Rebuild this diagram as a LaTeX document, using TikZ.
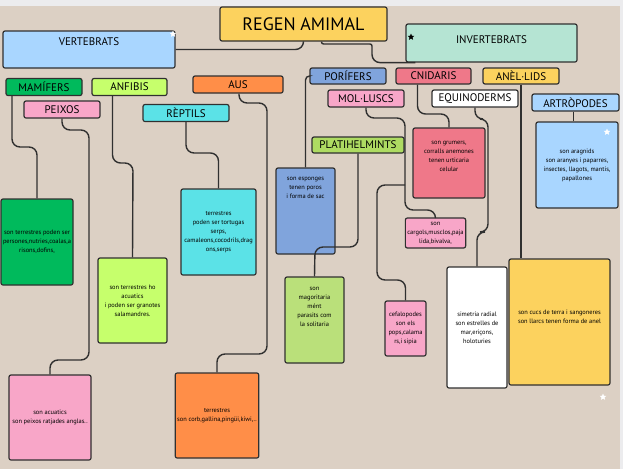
\documentclass[tikz,border=0pt]{standalone}
\usepackage{fontspec}
\setmainfont{PT Sans}
\usetikzlibrary{shapes.geometric}

\definecolor{paper}{HTML}{DCD0C4}
\definecolor{strip}{HTML}{ECECEE}
\definecolor{edge}{HTML}{303030}
\definecolor{gold}{HTML}{FCD25E}
\definecolor{skyblue}{HTML}{A9D6FF}
\definecolor{mint}{HTML}{B5E4D3}
\definecolor{mamgreen}{HTML}{00BA5C}
\definecolor{lime}{HTML}{C6FF6C}
\definecolor{orange}{HTML}{FF8E48}
\definecolor{pink}{HTML}{F8A6C8}
\definecolor{cyan}{HTML}{5BE2E7}
\definecolor{porblue}{HTML}{80A4DC}
\definecolor{cnired}{HTML}{EF7889}
\definecolor{platgreen}{HTML}{AEDB62}

\begin{document}
\begin{tikzpicture}[x=1pt, y=-1pt,
    every node/.style={font=\fontsize{11}{13}\selectfont},
    tag/.style={draw=edge, line width=1.2pt, rounded corners=2pt, inner sep=1pt, minimum height=17pt},
    desc/.style={draw=edge, line width=1.2pt, rounded corners=2pt, inner sep=2pt, align=center, font=\fontsize{6.4}{9}\selectfont},
    link/.style={draw=edge, line width=1.4pt, rounded corners=8pt},
    deco/.style={star, star points=5, star point ratio=2.2, inner sep=0pt, minimum size=7pt}]

  % paper
  \fill[paper] (0,0) rectangle (623,469);
  \fill[strip] (0,0) rectangle (623,6);
  \fill[strip] (620,0) rectangle (623,469);

  % kingdom and the two groups
  \node[tag, fill=gold, minimum width=167pt, minimum height=34pt, font=\fontsize{18}{20}\selectfont] (regen) at (303.5,24) {REGEN AMIMAL};
  \node[tag, fill=skyblue, minimum width=172pt, minimum height=37pt, text depth=15pt] (vert) at (89,49.5) {VERTEBRATS};
  \node[tag, fill=mint, minimum width=171pt, minimum height=38pt, text depth=6pt] (invert) at (491.5,43) {INVERTEBRATS};

  % vertebrate classes
  \node[tag, fill=mamgreen, minimum width=76pt] (mam) at (44,87) {MAMÍFERS};
  \node[tag, fill=lime, minimum width=75pt] (anf) at (129.5,87) {ANFIBIS};
  \node[tag, fill=orange, minimum width=90pt] (aus) at (238,84.5) {AUS};
  \node[tag, fill=pink, minimum width=76pt] (peix) at (62,109.5) {PEIXOS};
  \node[tag, fill=cyan, minimum width=86pt] (rep) at (186,113) {RÈPTILS};

  % invertebrate groups
  \node[tag, fill=porblue, minimum width=76pt, minimum height=16pt] (por) at (348,76) {PORÍFERS};
  \node[tag, fill=cnired, minimum width=75pt, minimum height=16pt] (cni) at (433.5,76) {CNIDARIS};
  \node[tag, fill=gold, minimum width=76pt, minimum height=16pt] (anel) at (521,76) {ANÈL·LIDS};
  \node[tag, fill=pink, minimum width=76pt] (mol) at (366,98.5) {MOL·LUSCS};
  \node[tag, fill=white, minimum width=86pt] (equi) at (475,98.5) {EQUINODERMS};
  \node[tag, fill=skyblue, minimum width=87pt] (artr) at (575.5,102.5) {ARTRÒPODES};
  \node[tag, fill=platgreen, minimum width=92pt, minimum height=16pt] (plat) at (358,145) {PLATIHELMINTS};

  % descriptions
  \node[desc, fill=mamgreen, minimum width=72pt, minimum height=86pt] (dmam) at (37,242)
    {son terrestres poden ser\\persones,nutries,coalas,a\\risons,dofins,};
  \node[desc, fill=lime, minimum width=69pt, minimum height=85pt] (danf) at (132.5,300.5)
    {son terrestres ho\\acuatics\\i poden ser granotes\\salamandres.};
  \node[desc, fill=cyan, minimum width=75pt, minimum height=86pt] (drep) at (218.5,232)
    {terrestres\\poden ser tortugas\\serps,\\camaleons,cocodrils,drag\\ons,serps};
  \node[desc, fill=pink, minimum width=82pt, minimum height=85pt] (dpeix) at (50,417.5)
    {son acuatics\\son peixos ratjades anglas..};
  \node[desc, fill=orange, minimum width=82pt, minimum height=85pt] (daus) at (217,415.5)
    {terrestres\\son corb,gallina,pingüi,kiwi,..};
  \node[desc, fill=porblue, minimum width=59pt, minimum height=86pt, text depth=46pt] (dpor) at (305.5,211)
    {son esponges\\tenen poros\\i forma de sac};
  \node[desc, fill=platgreen!85!white, minimum width=59pt, minimum height=86pt, text depth=26pt] (dplat) at (314.5,320)
    {son\\magoritaria\\mént\\parasits com\\la solitaria};
  \node[desc, fill=cnired, minimum width=72pt, minimum height=70pt, text depth=14pt] (dcni) at (449,163)
    {son grumers,\\corralls anemones\\tenen urticaria\\celular};
  \node[desc, fill=pink, minimum width=57pt, minimum height=30pt] (dmol) at (435.5,233)
    {son\\cargols,musclos,paja\\lida,bivalva,};
  \node[desc, fill=pink, minimum width=41pt, minimum height=55pt] (dcef) at (405.5,328.5)
    {cefalopodes\\son els\\pops,calama\\rs,i sipia};
  \node[desc, fill=white, minimum width=60pt, minimum height=121pt] (dequi) at (477,327.5)
    {simetria radial\\son estrelles de\\mar,eriçons,\\holoturies};
  \node[desc, fill=gold, minimum width=101pt, minimum height=126pt, text depth=10pt] (danel) at (559.5,322)
    {son cucs de terra i sangoneres\\son llarcs tenen forma de anel};
  \node[desc, fill=skyblue, minimum width=82pt, minimum height=86pt] (dartr) at (577,165)
    {son aragnids\\son aranyes i paparres,\\insectes, llagots, mantis,\\papallones};

  % connectors
  \draw[link] (regen.south) |- (vert.east);
  \draw[link] ([xshift=18pt]regen.south) [rounded corners=2pt] |- (372,44)
    [rounded corners=8pt] |- ([xshift=10pt]invert.south west);
  \draw[link] ([xshift=-32pt]mam.south) |- (37,147) -- (dmam.north);
  \draw[link] (peix.south) |- (89,130) -- (89,360) -| (dpeix.north);
  \draw[link] ([xshift=-17pt]anf.south) |- (133,163) -- (danf.north);
  \draw[link] (rep.south) |- (218.5,153) -- (drep.north);
  \draw[link] ([xshift=1pt]aus.south) |- (267,103) -- (267,354) -| (daus.north);
  \draw[link, rounded corners=4pt] (por.west) -| (dpor.north);
  \draw[link] (plat.south) |- (315,247) -- (dplat.north);
  \coordinate (molfork) at (405,185);
  \draw[link] (mol.south) |- (405,118) -- (molfork) -- (405,210) -| (dmol.north);
  \draw[link] (molfork) -| (377,280) -| (dcef.north);
  \draw[link] ([xshift=-16pt]cni.south) |- (449,114) -- (dcni.north);
  \draw[link] (equi.south) |- (488,119) -- (488,232) -| (dequi.north);
  \draw[link] (anel.south) -- (anel.south |- danel.north);
  \draw[link] ([xshift=-2pt]artr.south) -- ([xshift=-2pt]artr.south |- dartr.north);

  % little stars
  \node[deco, fill=white] (st1) at (173,34) {};
  \node[deco, fill=black] (st2) at (411,37) {};
  \node[deco, fill=white] (st3) at (607,132) {};
  \node[deco, fill=white] (st4) at (603,397) {};
\end{tikzpicture}
\end{document}
